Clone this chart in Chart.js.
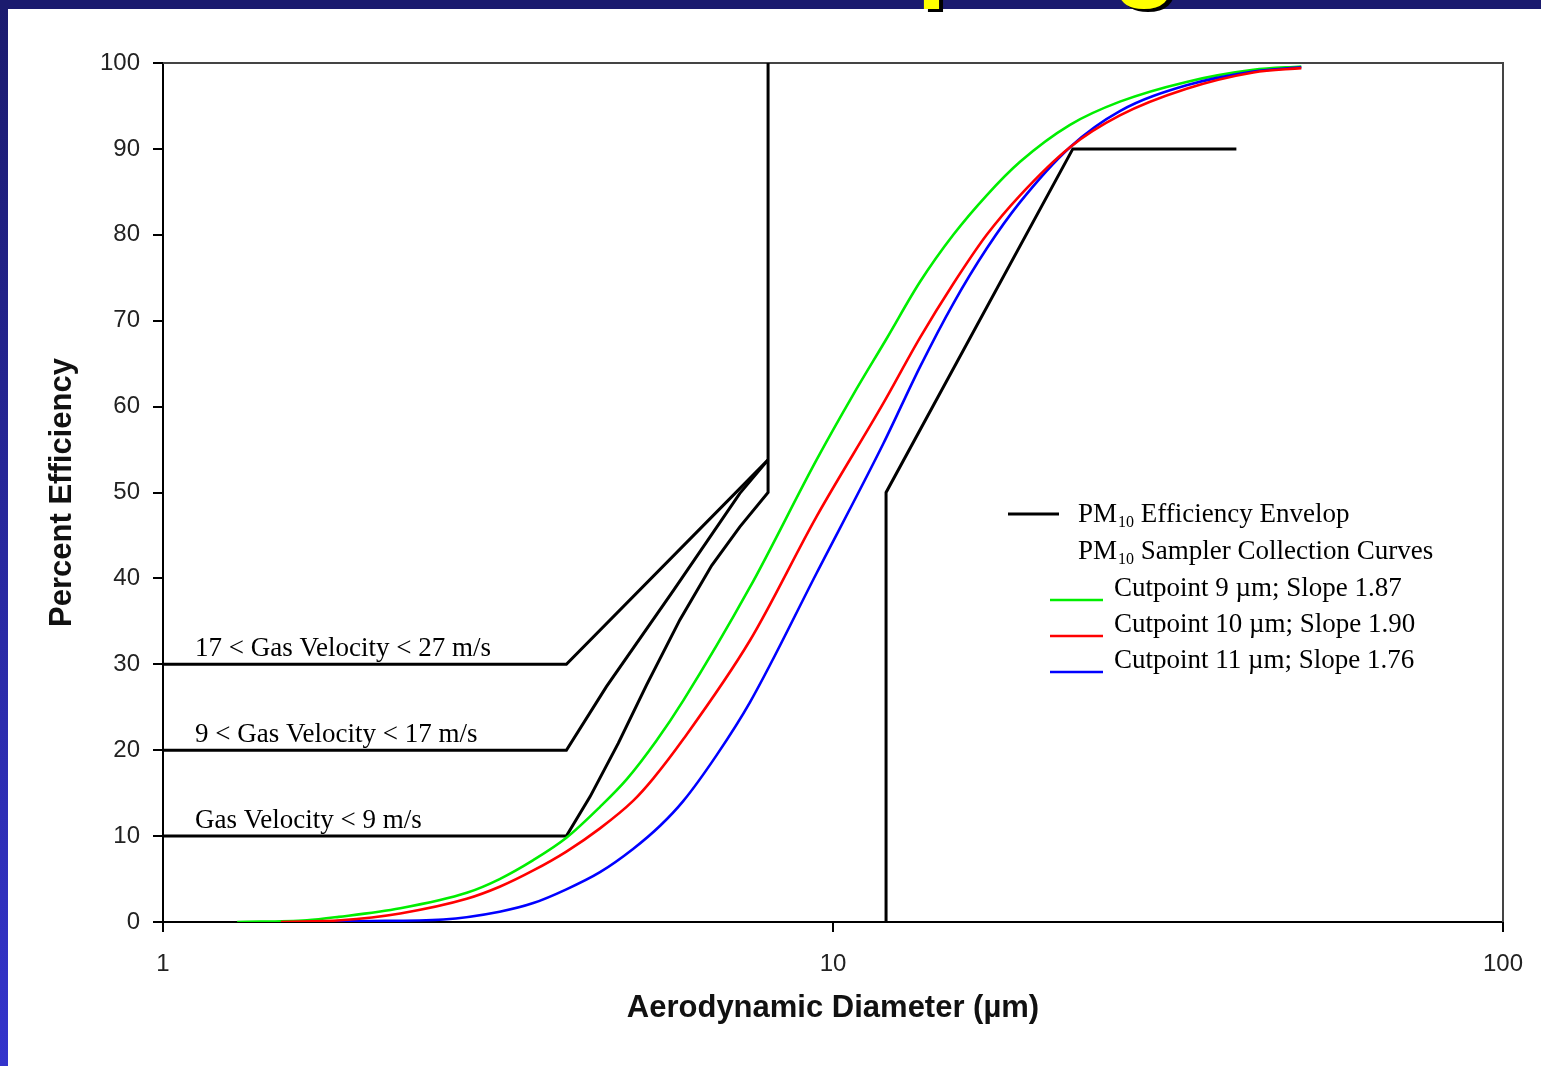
<!DOCTYPE html>
<html><head><meta charset="utf-8">
<style>html,body{margin:0;padding:0;background:#fff;overflow:hidden}#wrap{width:1541px;height:1066px;position:relative}canvas{display:block}</style>
<script src="https://cdn.jsdelivr.net/npm/chart.js@4"></script>
</head><body><div id="wrap"><canvas id="c" width="1541" height="1066"></canvas></div>
<script>
// ---- data ----
const xTickValues = [1, 10, 100];
const yTickValues = [0, 10, 20, 30, 40, 50, 60, 70, 80, 90, 100];

const cut9X  = [1.29, 1.64, 1.83, 2.26, 2.84, 3.18, 3.57, 4.0, 4.49, 4.92, 5.45, 5.98, 7.52, 9.45, 10.72, 12.02, 13.48, 15.12, 16.96, 19.02, 22.58, 26.8, 33.7, 42.4, 50];
const cut9Y  = [0, 0.2, 0.6, 1.6, 3.4, 5.0, 7.2, 9.8, 13.4, 16.6, 21.1, 25.8, 39.0, 53.8, 61.4, 67.9, 74.5, 80.0, 84.6, 88.5, 92.8, 95.5, 97.8, 99.2, 99.6];
const cut10X = [1.5, 1.84, 2.26, 2.84, 3.18, 3.57, 4.0, 4.49, 5.03, 5.39, 5.98, 7.52, 9.45, 11.89, 13.48, 15.12, 16.96, 19.02, 22.58, 26.8, 33.7, 42.4, 50];
const cut10Y = [0, 0.2, 1.0, 2.7, 4.1, 6.0, 8.2, 10.9, 14.1, 16.7, 21.3, 32.8, 47.2, 60.4, 68.0, 74.3, 80.0, 84.6, 90.2, 93.9, 97.0, 98.9, 99.4];
const cut11X = [1.75, 1.97, 2.62, 3.18, 3.57, 4.0, 4.49, 5.03, 5.52, 5.98, 6.70, 7.52, 9.45, 11.89, 13.48, 15.12, 16.96, 19.02, 22.58, 26.8, 33.7, 42.4, 50];
const cut11Y = [0, 0.1, 0.3, 1.2, 2.2, 3.8, 5.8, 8.5, 11.2, 14.1, 19.4, 25.6, 40.6, 55.7, 64.6, 72.0, 78.4, 83.8, 90.2, 94.4, 97.4, 99.0, 99.5];

const envAX = [1, 4.0, 8.0];
const envAY = [30, 30, 53.8];
const envBX = [1, 4.0, 4.59, 5.78, 7.26, 8.0];
const envBY = [20, 20, 27.4, 38.6, 49.9, 53.8];
const envCX = [1, 4.0, 4.34, 4.78, 5.27, 5.91, 6.59, 7.26, 8.0, 8.0];
const envCY = [10, 10, 14.6, 20.8, 27.6, 35.2, 41.5, 46.0, 50, 100];
const envLowX = [12, 12, 22.8, 40];
const envLowY = [0, 50, 90, 90];

const annotLabels = ['17 < Gas Velocity < 27 m/s', '9 < Gas Velocity < 17 m/s', 'Gas Velocity < 9 m/s'];
const annotLevels = [30, 20, 10];

const legendSeries = [
  {text: 'Cutpoint 9 \u00b5m; Slope 1.87', color: '#00ee00'},
  {text: 'Cutpoint 10 \u00b5m; Slope 1.90', color: '#ff0000'},
  {text: 'Cutpoint 11 \u00b5m; Slope 1.76', color: '#0000ff'}
];

// ---- helpers ----
const pts = (xs, ys) => xs.map((x, i) => ({x: x, y: ys[i]}));
const SERIF = '"Liberation Serif","Times New Roman",serif';
const SANS = '"Liberation Sans",Arial,sans-serif';

function blackLine(xs, ys, ord) {
  return {data: pts(xs, ys), borderColor: '#000', borderWidth: 3, pointRadius: 0, showLine: true,
          tension: 0, order: ord, borderJoinStyle: 'miter', fill: false};
}
function curve(xs, ys, color, ord) {
  return {data: pts(xs, ys), borderColor: color, borderWidth: 2.6, pointRadius: 0, showLine: true,
          cubicInterpolationMode: 'monotone', order: ord, fill: false};
}

const bgPlugin = {
  id: 'bg',
  beforeDraw(chart) {
    const ctx = chart.ctx;
    ctx.save();
    ctx.fillStyle = '#fff';
    ctx.fillRect(0, 0, chart.width, chart.height);
    const g = ctx.createLinearGradient(0, 0, 0, chart.height);
    g.addColorStop(0, '#1b1b6e');
    g.addColorStop(1, '#3434cc');
    ctx.fillStyle = g;
    ctx.fillRect(0, 0, 8, chart.height);
    ctx.fillStyle = '#1b1b6e';
    ctx.fillRect(0, 0, chart.width, 9);
    // cropped slide title (only descenders visible)
    ctx.font = 'bold 110px ' + SANS;
    ctx.textAlign = 'left';
    ctx.textBaseline = 'alphabetic';
    ctx.shadowColor = '#000';
    ctx.shadowOffsetX = 4;
    ctx.shadowOffsetY = 3;
    ctx.shadowBlur = 0;
    ctx.fillStyle = '#ffff00';
    ctx.fillText('Sampling', 684, -14);
    ctx.restore();
  },
  beforeDatasetsDraw(chart) {
    const {ctx, chartArea: a} = chart;
    ctx.save();
    ctx.strokeStyle = '#444';
    ctx.lineWidth = 2;
    ctx.beginPath();
    ctx.moveTo(a.left, a.top);
    ctx.lineTo(a.right, a.top);
    ctx.lineTo(a.right, a.bottom);
    ctx.stroke();
    ctx.restore();
  }
};

function drawPM(ctx, x, y, rest) {
  ctx.font = '27px ' + SERIF;
  ctx.fillText('PM', x, y);
  let w = ctx.measureText('PM').width + 1;
  ctx.font = '16px ' + SERIF;
  ctx.fillText('10', x + w, y + 5);
  w += ctx.measureText('10').width;
  ctx.font = '27px ' + SERIF;
  ctx.fillText(rest, x + w, y);
}

const textPlugin = {
  id: 'texts',
  afterDraw(chart) {
    const {ctx} = chart;
    const xs = chart.scales.x, ys = chart.scales.y;
    ctx.save();
    ctx.fillStyle = '#000';
    ctx.textAlign = 'left';
    ctx.textBaseline = 'alphabetic';
    ctx.font = '27px ' + SERIF;
    annotLabels.forEach((t, i) => {
      ctx.fillText(t, xs.getPixelForValue(1) + 32, ys.getPixelForValue(annotLevels[i]) - 8);
    });
    // legend
    const lx = 1008, ly = 514;
    ctx.strokeStyle = '#000';
    ctx.lineWidth = 3;
    ctx.beginPath(); ctx.moveTo(lx, ly); ctx.lineTo(lx + 51, ly); ctx.stroke();
    drawPM(ctx, 1078, 522, ' Efficiency Envelop');
    drawPM(ctx, 1078, 559, ' Sampler Collection Curves');
    legendSeries.forEach((s, i) => {
      const by = 596 + i * 36;
      ctx.font = '27px ' + SERIF;
      ctx.fillStyle = '#000';
      ctx.fillText(s.text, 1114, by);
      ctx.strokeStyle = s.color;
      ctx.lineWidth = 2.6;
      ctx.beginPath(); ctx.moveTo(1050, by + 4); ctx.lineTo(1103, by + 4); ctx.stroke();
    });
    ctx.restore();
  }
};

new Chart(document.getElementById('c'), {
  type: 'scatter',
  data: {
    datasets: [
      curve(cut10X, cut10Y, '#ff0000', 0),
      curve(cut11X, cut11Y, '#0000ff', 1),
      curve(cut9X, cut9Y, '#00ee00', 2),
      blackLine(envAX, envAY, 3),
      blackLine(envBX, envBY, 4),
      blackLine(envCX, envCY, 5),
      blackLine(envLowX, envLowY, 6)
    ]
  },
  options: {
    responsive: false,
    animation: false,
    devicePixelRatio: 1,
    layout: {padding: {left: 10, top: 63, right: 38, bottom: 10}},
    plugins: {legend: {display: false}, tooltip: {enabled: false}},
    scales: {
      x: {
        type: 'logarithmic', min: 1, max: 100,
        afterBuildTicks(s) { s.ticks = xTickValues.map(v => ({value: v})); },
        afterFit(s) { s.height = 134; s.paddingLeft = 0; s.paddingRight = 0; },
        ticks: {callback: v => String(v), font: {family: SANS, size: 24}, color: '#222', padding: 18, maxRotation: 0, autoSkip: false},
        grid: {drawOnChartArea: false, drawTicks: true, tickLength: 10, color: '#000', lineWidth: 2},
        border: {display: true, color: '#000', width: 2},
        title: {display: true, text: 'Aerodynamic Diameter (\u00b5m)', color: '#111',
                font: {family: SANS, size: 31, weight: 'bold', lineHeight: 1}, padding: {top: 0, bottom: 32}}
      },
      y: {
        type: 'linear', min: 0, max: 100,
        afterBuildTicks(s) { s.ticks = yTickValues.map(v => ({value: v})); },
        afterFit(s) { s.width = 153; s.paddingTop = 0; s.paddingBottom = 0; },
        ticks: {font: {family: SANS, size: 24}, color: '#222', padding: 13},
        grid: {drawOnChartArea: false, drawTicks: true, tickLength: 10, color: '#000', lineWidth: 2},
        border: {display: true, color: '#000', width: 2},
        title: {display: true, text: 'Percent Efficiency', color: '#111',
                font: {family: SANS, size: 31, weight: 'bold', lineHeight: 1}, padding: {top: 37, bottom: 0}}
      }
    }
  },
  plugins: [bgPlugin, textPlugin]
});
</script>
</body></html>
